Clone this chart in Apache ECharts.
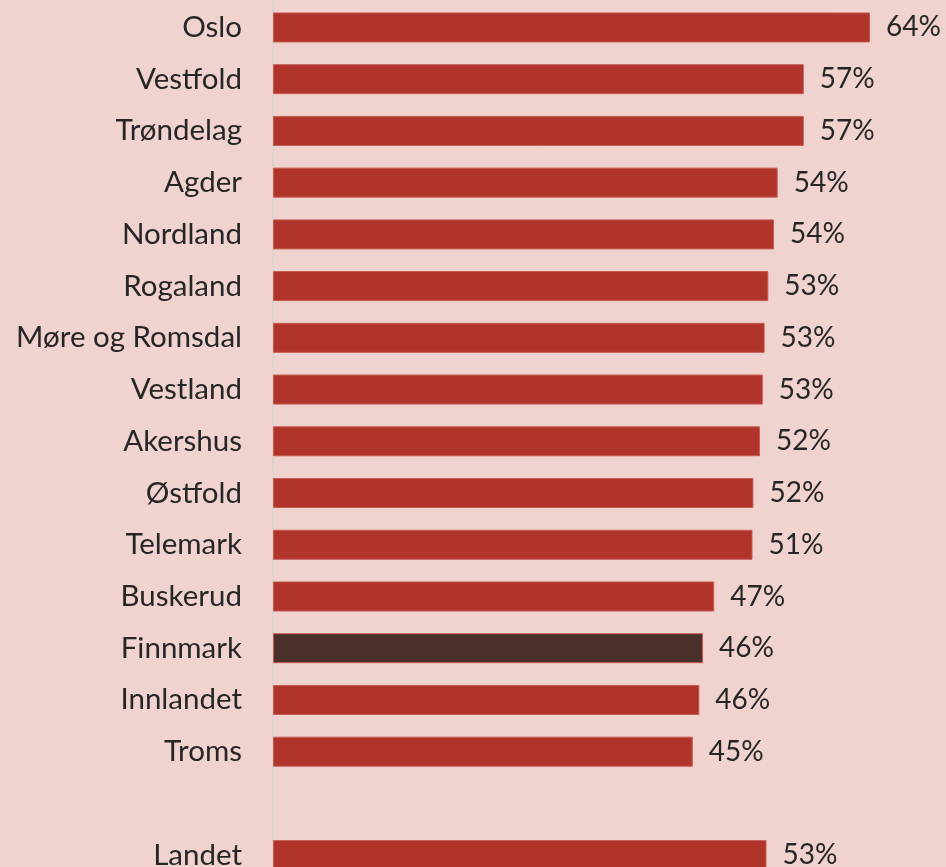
<!DOCTYPE html>
<html>
<head>
<meta charset="utf-8">
<script src="https://cdn.jsdelivr.net/npm/echarts@6/dist/echarts.min.js"></script>
<style>
  html, body { margin: 0; padding: 0; background: #f0d3cf; overflow: hidden; height: 867px; }
  /* the last bar is cut by the bottom edge, so the chart is a bit taller than the page */
  #chart { width: 946px; height: 881px; }
</style>
</head>
<body>
<div id="chart"></div>
<script>
// fylker, sortert, tom rad før landet
var fylker = [
  "Oslo", "Vestfold", "Trøndelag", "Agder", "Nordland", "Rogaland",
  "Møre og Romsdal", "Vestland", "Akershus", "Østfold", "Telemark",
  "Buskerud", "Finnmark", "Innlandet", "Troms", "", "Landet"
];
var andel = [
  64.0, 56.9, 56.9, 54.1, 53.7, 53.1,
  52.7, 52.5, 52.2, 51.5, 51.4,
  47.3, 46.1, 45.7, 45.0, null, 52.9
];
var markert = ["Finnmark"];

var myChart = echarts.init(document.getElementById("chart"));

var data = andel.map(function (v, i) {
  if (v === null) return "-";
  var item = { value: v };
  if (markert.indexOf(fylker[i]) >= 0) {
    item.itemStyle = { color: "#4b2f2a" };
  }
  return item;
});

var option = {
  backgroundColor: "#f0d3cf",
  animation: false,
  grid: {
    left: 273,
    width: 653,
    top: 1.6,
    bottom: 0
  },
  xAxis: {
    type: "value",
    min: 0,
    max: 70,
    show: false
  },
  yAxis: {
    type: "category",
    data: fylker,
    inverse: true,
    axisTick: { show: false },
    axisLine: { show: true, lineStyle: { color: "#d9d0ce", width: 1.5 } },
    axisLabel: {
      margin: 31,
      color: "#262626",
      fontFamily: "Lato",
      fontSize: 29.5
    }
  },
  series: [
    {
      type: "bar",
      data: data,
      barWidth: 30,
      itemStyle: {
        color: "#b03429",
        borderColor: "#c65a50",
        borderWidth: 1
      },
      label: {
        show: true,
        position: "right",
        distance: 16,
        color: "#262626",
        fontFamily: "Lato",
        fontSize: 28,
        formatter: function (p) {
          return Math.round(p.value) + "%";
        }
      }
    }
  ]
};

option && myChart.setOption(option);
</script>
</body>
</html>
